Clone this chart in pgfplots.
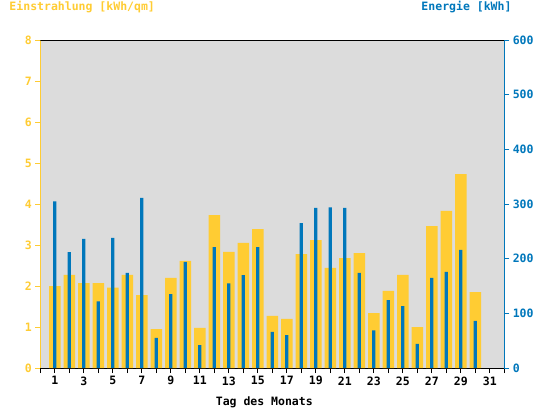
\documentclass[border=0pt]{standalone}
\usepackage{pgfplots}
\pgfplotsset{compat=1.18}
\usepackage{fontspec}
\setmainfont{DejaVu Sans Mono}[BoldFont={DejaVu Sans Mono Bold}]
\newcommand{\lbl}{\fontsize{11.5bp}{13bp}\selectfont\bfseries}
\definecolor{sunY}{HTML}{FFCC33}
\definecolor{enB}{HTML}{0077BB}
\definecolor{bgG}{HTML}{DCDCDC}
\begin{document}
\begin{tikzpicture}[every node/.append style={font=\lbl}]
\begin{axis}[
  at={(0,0)}, anchor=south west,
  scale only axis, width=464bp, height=328bp,
  xmin=0, xmax=32, ymin=0, ymax=8,
  axis background/.style={fill=bgG},
  axis x line*=bottom, axis y line*=left,
  x axis line style={black, line width=1pt},
  y axis line style={sunY, line width=1pt},
  xtick={0,...,32},
  xticklabels={,1,,3,,5,,7,,9,,11,,13,,15,,17,,19,,21,,23,,25,,27,,29,,31,},
  ytick={0,...,8},
  tick align=outside, major tick length=5bp,
  x tick style={black, line width=0.8pt},
  y tick style={sunY, line width=0.8pt},
  yticklabel style={text=sunY, font=\lbl},
  xticklabel style={text=black, font=\lbl},
  /pgf/number format/assume math mode=true,
  ybar, bar width=11.5bp, bar shift=0pt,
]
\addplot[fill=sunY, draw=none] coordinates {
(1,2.00) (2,2.27) (3,2.07) (4,2.07) (5,1.96) (6,2.27) (7,1.78) (8,0.95) (9,2.20) (10,2.61)
(11,0.98) (12,3.73) (13,2.83) (14,3.05) (15,3.39) (16,1.27) (17,1.20) (18,2.78) (19,3.12) (20,2.44)
(21,2.68) (22,2.80) (23,1.34) (24,1.88) (25,2.27) (26,1.00) (27,3.46) (28,3.83) (29,4.73) (30,1.85)
};
\draw[black, line width=1pt] (rel axis cs:0,1) -- (rel axis cs:1,1);
\end{axis}
\begin{axis}[
  at={(0,0)}, anchor=south west,
  scale only axis, width=464bp, height=328bp,
  xmin=0, xmax=32, ymin=0, ymax=600,
  axis x line=none, axis y line*=right,
  y axis line style={enB, line width=1pt},
  ytick={0,100,...,600},
  tick align=outside, major tick length=5bp,
  y tick style={enB, line width=0.8pt},
  yticklabel style={text=enB, font=\lbl},
  /pgf/number format/assume math mode=true,
  ybar, bar width=3.2bp, bar shift=0pt,
]
\addplot[fill=enB, draw=none] coordinates {
(1,305) (2,212) (3,236) (4,122) (5,238) (6,174) (7,311) (8,55) (9,135) (10,194)
(11,42) (12,221) (13,155) (14,170) (15,221) (16,66) (17,60) (18,265) (19,293) (20,294)
(21,293) (22,174) (23,69) (24,124) (25,113) (26,44) (27,165) (28,176) (29,216) (30,86)
};
\end{axis}
\node[anchor=base west, inner sep=0pt, text=sunY] at (-31bp,357bp) {Einstrahlung [kWh/qm]};
\node[anchor=base east, inner sep=0pt, text=enB] at (471.4bp,357bp) {Energie [kWh]};
\node[anchor=base, inner sep=0pt, text=black] at (224bp,-37bp) {Tag des Monats};
\pgfresetboundingbox
\path (-40.3bp,-40bp) rectangle (503.7bp,368bp);
\end{tikzpicture}
\end{document}
